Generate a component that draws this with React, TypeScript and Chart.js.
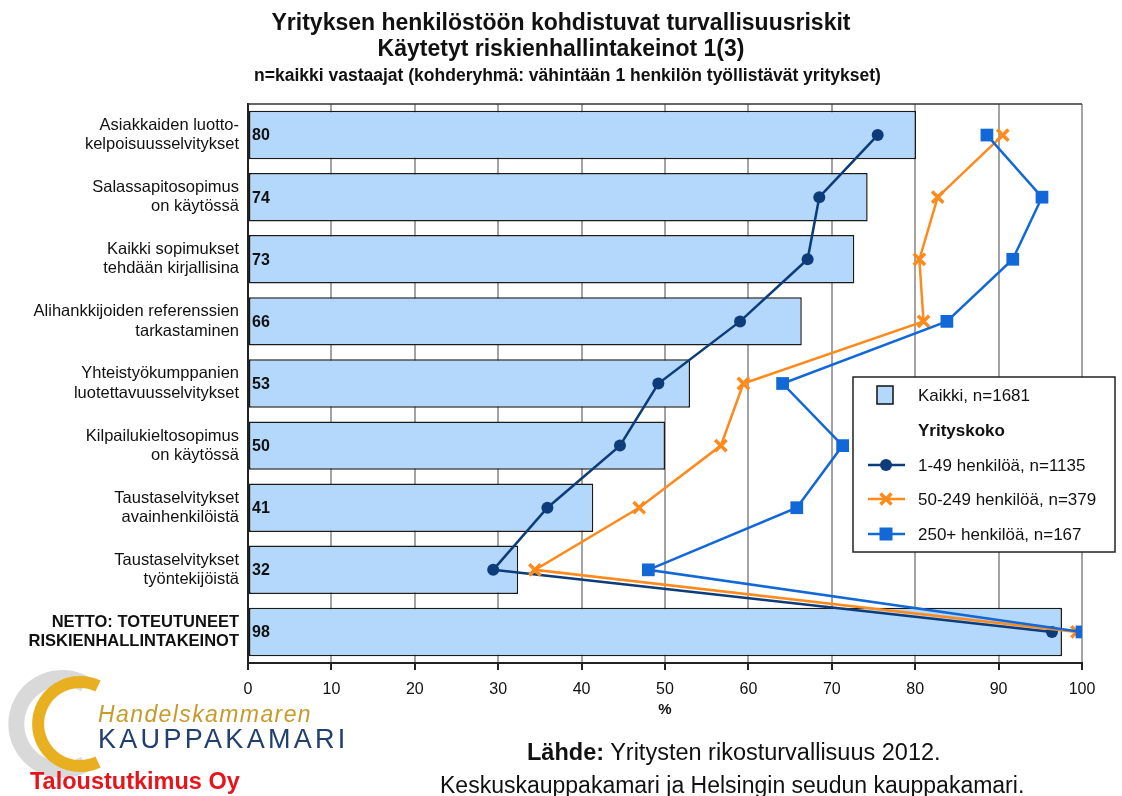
import React, { useEffect, useRef } from "react";
import { Chart, registerables } from "chart.js";

Chart.register(...registerables);

const categories: string[][] = [
  ["Asiakkaiden luotto-", "kelpoisuusselvitykset"],
  ["Salassapitosopimus", "on käytössä"],
  ["Kaikki sopimukset", "tehdään kirjallisina"],
  ["Alihankkijoiden referenssien", "tarkastaminen"],
  ["Yhteistyökumppanien", "luotettavuusselvitykset"],
  ["Kilpailukieltosopimus", "on käytössä"],
  ["Taustaselvitykset", "avainhenkilöistä"],
  ["Taustaselvitykset", "työntekijöistä"],
  ["NETTO: TOTEUTUNEET", "RISKIENHALLINTAKEINOT"],
];
const kaikki = [80.1, 74.3, 72.7, 66.4, 53.0, 50.0, 41.4, 32.4, 97.6];
const size1to49 = [75.5, 68.5, 67.1, 59.0, 49.2, 44.6, 35.9, 29.4, 96.4];
const size50to249 = [90.5, 82.7, 80.5, 81.0, 59.4, 56.7, 46.9, 34.4, 99.4];
const size250plus = [88.6, 95.2, 91.7, 83.8, 64.1, 71.3, 65.8, 48.0, 100];

const seriesNames = ["Kaikki, n=1681", "1-49 henkilöä, n=1135", "50-249 henkilöä, n=379", "250+ henkilöä, n=167"];
const legendHeading = "Yrityskoko";

const FONT = '"Liberation Sans", Arial, sans-serif';
const NAVY = "#0c3c7a";
const ORANGE = "#ff8a1c";
const BLUE = "#1268d6";
const BAR = "#b4d8fb";

function drawMarker(ctx: CanvasRenderingContext2D, style: string, x: number, y: number, color: string) {
  ctx.save();
  ctx.fillStyle = color;
  ctx.strokeStyle = color;
  if (style === "circle") {
    ctx.beginPath();
    ctx.arc(x, y, 6, 0, Math.PI * 2);
    ctx.fill();
  } else if (style === "rect") {
    ctx.fillRect(x - 6.5, y - 6.5, 13, 13);
  } else {
    ctx.lineWidth = 3.5;
    const o = 5.5;
    ctx.beginPath();
    ctx.moveTo(x - o, y - o);
    ctx.lineTo(x + o, y + o);
    ctx.moveTo(x + o, y - o);
    ctx.lineTo(x - o, y + o);
    ctx.stroke();
  }
  ctx.restore();
}

const overlayPlugin = {
  id: "overlay",
  afterDatasetsDraw(chart: any) {
    const ctx: CanvasRenderingContext2D = chart.ctx;
    const area = chart.chartArea;
    ctx.save();
    ctx.strokeStyle = "#333";
    ctx.lineWidth = 1.5;
    ctx.beginPath();
    ctx.moveTo(area.left, area.top);
    ctx.lineTo(area.right, area.top);
    ctx.stroke();
    const meta = chart.getDatasetMeta(0);
    ctx.font = "bold 16px " + FONT;
    ctx.fillStyle = "#111";
    ctx.textBaseline = "middle";
    ctx.textAlign = "left";
    meta.data.forEach((el: any, i: number) => {
      ctx.fillText(String(Math.round(kaikki[i])), area.left + 4, el.y + 1);
    });
    const bx = 853, by = 377, bw = 262, bh = 175;
    ctx.fillStyle = "#fff";
    ctx.fillRect(bx, by, bw, bh);
    ctx.strokeStyle = "#222";
    ctx.lineWidth = 1.5;
    ctx.strokeRect(bx, by, bw, bh);
    ctx.fillStyle = BAR;
    ctx.fillRect(877, 386, 16, 18);
    ctx.strokeStyle = "#111";
    ctx.lineWidth = 1.5;
    ctx.strokeRect(877, 386, 16, 18);
    ctx.fillStyle = "#111";
    ctx.font = "17px " + FONT;
    ctx.fillText(seriesNames[0], 918, 396);
    ctx.font = "bold 17px " + FONT;
    ctx.fillText(legendHeading, 918, 431);
    const entries = [
      { c: NAVY, s: "circle", y: 465, t: seriesNames[1] },
      { c: ORANGE, s: "crossRot", y: 499, t: seriesNames[2] },
      { c: BLUE, s: "rect", y: 534, t: seriesNames[3] },
    ];
    entries.forEach((e) => {
      ctx.strokeStyle = e.c;
      ctx.lineWidth = 2.5;
      ctx.beginPath();
      ctx.moveTo(868, e.y);
      ctx.lineTo(905, e.y);
      ctx.stroke();
      drawMarker(ctx, e.s, 886, e.y, e.c);
      ctx.fillStyle = "#111";
      ctx.font = "17px " + FONT;
      ctx.fillText(e.t, 918, e.y + 1);
    });
    ctx.restore();
  },
};

function ChartCanvas() {
  const ref = useRef<HTMLCanvasElement | null>(null);
  useEffect(() => {
    if (!ref.current) return;
    const chart = new Chart(ref.current, {
      type: "bar",
      data: {
        labels: categories as any,
        datasets: [
          {
            type: "bar",
            label: seriesNames[0],
            data: kaikki,
            backgroundColor: BAR,
            borderColor: "#1a1a1a",
            borderWidth: 1.5,
            borderSkipped: false,
            barPercentage: 0.78,
            categoryPercentage: 1,
            order: 10,
          } as any,
          {
            type: "line",
            label: seriesNames[1],
            data: size1to49,
            indexAxis: "y",
            borderColor: NAVY,
            backgroundColor: NAVY,
            borderWidth: 2.5,
            pointStyle: "circle",
            pointRadius: 6,
            pointBorderWidth: 0,
            order: 3,
          } as any,
          {
            type: "line",
            label: seriesNames[2],
            data: size50to249,
            indexAxis: "y",
            borderColor: ORANGE,
            backgroundColor: ORANGE,
            borderWidth: 2.5,
            pointStyle: "crossRot",
            pointRadius: 8,
            pointBorderWidth: 3.5,
            order: 2,
          } as any,
          {
            type: "line",
            label: seriesNames[3],
            data: size250plus,
            indexAxis: "y",
            borderColor: BLUE,
            backgroundColor: BLUE,
            borderWidth: 2.5,
            pointStyle: "rect",
            pointRadius: 9,
            pointBorderWidth: 0,
            order: 1,
          } as any,
        ],
      },
      options: {
        indexAxis: "y",
        animation: false,
        responsive: false,
        maintainAspectRatio: false,
        layout: { padding: { left: 0, top: 104, right: 40, bottom: 73 } },
        plugins: { legend: { display: false }, tooltip: { enabled: false }, title: { display: false } },
        scales: {
          x: {
            type: "linear",
            min: 0,
            max: 100,
            ticks: { stepSize: 10, color: "#111", font: { family: FONT, size: 16 }, padding: 10 },
            grid: { color: "#a3a3a3", lineWidth: 2, tickColor: "#222", tickLength: 7, drawOnChartArea: true },
            border: { display: true, color: "#222", width: 2 },
            title: { display: true, text: "%", color: "#111", font: { family: FONT, size: 15, weight: "bold" }, padding: { top: 0 } },
            afterFit: (s: any) => { s.height = 60; },
          } as any,
          y: {
            type: "category",
            grid: { display: false, drawTicks: false },
            border: { display: true, color: "#222", width: 2 },
            ticks: {
              color: "#111",
              padding: 9,
              font: (c: any) => ({ family: FONT, size: 16.5, weight: c.index === 8 ? "bold" : "normal", lineHeight: 1.16 }),
            },
            afterFit: (s: any) => { s.width = 248; },
          } as any,
        },
      },
      plugins: [overlayPlugin],
    });
    return () => chart.destroy();
  }, []);
  return <canvas ref={ref} width={1122} height={796} style={{ position: "absolute", left: 0, top: 0, width: 1122, height: 796 }} />;
}

export default function App() {
  const abs = (s: React.CSSProperties): React.CSSProperties => ({ position: "absolute", margin: 0, whiteSpace: "nowrap", fontFamily: FONT, ...s });
  return (
    <div style={{ position: "absolute", left: 0, top: 0, width: 1122, height: 796, overflow: "hidden", background: "#fff" }}>
      <ChartCanvas />
      <div style={abs({ left: 0, width: 1122, top: 9, textAlign: "center", fontWeight: "bold", fontSize: 23, lineHeight: "26px", color: "#111" })}>
        Yrityksen henkilöstöön kohdistuvat turvallisuusriskit
        <br />
        Käytetyt riskienhallintakeinot 1(3)
      </div>
      <div style={abs({ left: 0, width: 1135, top: 65, textAlign: "center", fontWeight: "bold", fontSize: 17.5, color: "#111" })}>
        n=kaikki vastaajat (kohderyhmä: vähintään 1 henkilön työllistävät yritykset)
      </div>
      <svg width={360} height={110} style={{ position: "absolute", left: 0, top: 668 }}>
        <path d="M 95 16 A 46 46 0 1 0 95 96" fill="none" stroke="#d9d9d9" strokeWidth={16} transform="translate(-10,0)" />
        <path d="M 98 18 A 42 42 0 1 0 98 94" fill="none" stroke="#e8b020" strokeWidth={12} />
        <text x={98} y={54} fontFamily={FONT} fontStyle="italic" fontSize={23} fill="#c79a2a" letterSpacing={1.4}>Handelskammaren</text>
        <text x={98} y={80} fontFamily={FONT} fontSize={27} fill="#22406f" letterSpacing={3.3}>KAUPPAKAMARI</text>
      </svg>
      <div style={abs({ left: 30, top: 768, fontWeight: "bold", fontSize: 23.5, color: "#e8141c" })}>Taloustutkimus Oy</div>
      <div style={abs({ left: 527, top: 739, fontSize: 23.5, color: "#111" })}>
        <b>Lähde:</b> Yritysten rikosturvallisuus 2012.
      </div>
      <div style={abs({ left: 440, top: 772, fontSize: 23, color: "#111" })}>
        Keskuskauppakamari ja Helsingin seudun kauppakamari.
      </div>
    </div>
  );
}
